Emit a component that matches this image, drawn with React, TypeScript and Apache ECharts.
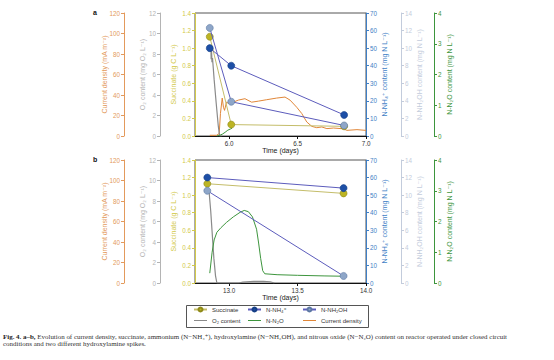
import React, { useEffect, useRef } from "react";
import * as echarts from "echarts";

// ---------- data ----------
// Panel a (first hydroxylamine spike)
const sampleDaysA = [5.858, 6.015, 6.84];
const succinateA = [1.13, 0.13, 0.11];
const ammoniumA = [50, 40, 12];
const hydroxylamineA = [12.3, 3.9, 1.2];

const o2DaysA = [5.866, 5.868, 5.871, 5.874, 5.878, 5.89, 5.905, 5.92, 5.93, 5.945];
const o2A = [8.7, 7.5, 8.3, 7.2, 7.6, 5.5, 3.2, 1.0, 0, 0];

const n2oDaysA = [5.91, 5.93, 5.95, 5.97, 5.99, 6.01, 6.02];
const n2oA = [0, 0.02, 0.06, 0.12, 0.19, 0.23, 0.25];

const cdDaysA = [5.858, 5.907, 5.927, 5.936, 5.949, 5.958, 5.966, 5.98, 6.0, 6.03, 6.066, 6.115, 6.164, 6.213, 6.274, 6.347, 6.408, 6.445, 6.494, 6.53, 6.567, 6.604, 6.64, 6.677, 6.714, 6.763, 6.836, 6.86, 6.934, 7.0];
const cdA = [0.7, 0.7, 2.3, 22, 37, 28, 25, 33, 31.5, 33, 35, 36.4, 33, 34, 35.4, 37, 38, 35, 28, 22, 13.7, 9.4, 8.1, 8.8, 7.2, 7.8, 7, 5.5, 6.2, 5.5];

// Panel b (second hydroxylamine spike)
const sampleDaysB = [12.84, 13.836];
const succinateB = [1.13, 1.02];
const ammoniumB = [60, 54];
const hydroxylamineB = [10.5, 0.8];

const o2DaysB = [12.853, 12.865, 12.877, 12.888, 12.9, 12.91, 13.07, 13.1, 13.18, 13.25, 13.3, 13.33];
const o2B = [8.9, 7.0, 4.6, 2.4, 0.7, 0, 0, 0.08, 0.15, 0.17, 0.12, 0];

const n2oDaysB = [12.858, 12.875, 12.89, 12.91, 12.94, 12.98, 13.03, 13.08, 13.11, 13.14, 13.17, 13.2, 13.215, 13.23, 13.245, 13.26, 13.35, 13.5, 13.7, 13.836];
const n2oB = [0.32, 1.0, 1.4, 1.65, 1.8, 1.97, 2.15, 2.3, 2.36, 2.32, 2.15, 1.75, 1.3, 0.8, 0.4, 0.3, 0.27, 0.25, 0.23, 0.22];

// axes
const timeTicksA = [6.0, 6.5, 7.0];
const timeTicksB = [13.0, 13.5, 14.0];

// ---------- styles ----------
const FONT = "'Liberation Sans', 'DejaVu Sans', Arial, sans-serif";
const SERIF = "'Liberation Serif', 'DejaVu Serif', serif";
const C_CD = "#e39a5c";
const C_CD_LINE = "#e08638";
const C_O2 = "#b4b4b4";
const C_O2_LINE = "#8a8a8a";
const C_SUC = "#d2c94a";
const C_NH4 = "#3f7fc6";
const C_NH2OH = "#c3ccdc";
const C_N2O = "#3d953d";
const LINE_ICON = "path://M0,0 L26,0 L26,2 L0,2 Z";

const zip = (xs: number[], ys: number[]) => xs.map((x, i) => [x, ys[i]]);

function yAxesFor(gridIndex: number) {
  const defs = [
    { name: "Current density (mA m⁻²)", position: "left", offset: 71, max: 120, interval: 20, color: C_CD, gap: 16 },
    { name: "O₂ content (mg O₂ L⁻¹)", position: "left", offset: 35, max: 12, interval: 2, color: C_O2, gap: 14 },
    { name: "Succinate (g C L⁻¹)", position: "left", offset: 0, max: 1.4, interval: 0.2, color: C_SUC, gap: 18, fixed: true },
    { name: "N-NH₄⁺ content (mg N L⁻¹)", position: "right", offset: 0, max: 70, interval: 10, color: C_NH4, gap: 15 },
    { name: "N-NH₂OH content (mg N L⁻¹)", position: "right", offset: 35, max: 14, interval: 2, color: C_NH2OH, gap: 15 },
    { name: "N-N₂O content (mg N L⁻¹)", position: "right", offset: 68, max: 4, interval: 1, color: C_N2O, gap: 12 },
  ];
  return defs.map((d) => ({
    type: "value",
    gridIndex,
    position: d.position,
    offset: d.offset,
    min: 0,
    max: d.max,
    interval: d.interval,
    name: d.name,
    nameLocation: "middle",
    nameRotate: 90,
    nameGap: d.gap,
    nameMoveOverlap: false,
    nameTextStyle: { color: d.color, fontSize: 7, fontFamily: FONT },
    axisLine: { show: true, lineStyle: { color: d.color, width: 1 } },
    axisTick: { show: true, length: 3, lineStyle: { color: d.color } },
    axisLabel: {
      color: d.color,
      fontSize: 6.3,
      fontFamily: FONT,
      margin: 4,
      formatter: d.fixed ? (v: number) => v.toFixed(1) : undefined,
    },
    splitLine: { show: false },
  }));
}

function xAxisFor(gridIndex: number, min: number, max: number, ticks: number[]) {
  return {
    type: "value",
    gridIndex,
    position: "bottom",
    min,
    max,
    name: "Time (days)",
    nameLocation: "middle",
    nameGap: 11,
    nameMoveOverlap: false,
    nameTextStyle: { color: "#222", fontSize: 7, fontFamily: FONT },
    axisLine: { show: true, onZero: false, lineStyle: { color: "#111", width: 1 } },
    axisTick: { show: true, length: 3, customValues: ticks, lineStyle: { color: "#111" } },
    axisLabel: {
      color: "#333",
      fontSize: 6.3,
      fontFamily: FONT,
      margin: 4,
      customValues: ticks,
      formatter: (v: number) => v.toFixed(1),
    },
    splitLine: { show: false },
  };
}

const LINE_BLUE = "#5c5cbc";

function seriesFor(panel: number) {
  const a = panel === 0;
  const yb = panel * 6;
  const xi = panel;
  const days = a ? sampleDaysA : sampleDaysB;
  const list: any[] = [];
  if (a) {
    list.push({
      name: "Current density",
      type: "line",
      xAxisIndex: xi,
      yAxisIndex: yb + 0,
      symbol: "none",
      lineStyle: { color: C_CD_LINE, width: 1 },
      itemStyle: { color: C_CD_LINE },
      data: zip(cdDaysA, cdA),
      z: 2,
    });
  }
  list.push({
    name: "O₂ content",
    type: "line",
    xAxisIndex: xi,
    yAxisIndex: yb + 1,
    symbol: "none",
    lineStyle: { color: C_O2_LINE, width: 1.2 },
    itemStyle: { color: C_O2_LINE },
    data: zip(a ? o2DaysA : o2DaysB, a ? o2A : o2B),
    z: 2,
  });
  list.push({
    name: "N-N₂O",
    type: "line",
    xAxisIndex: xi,
    yAxisIndex: yb + 5,
    symbol: "none",
    lineStyle: { color: C_N2O, width: 1 },
    itemStyle: { color: C_N2O },
    data: zip(a ? n2oDaysA : n2oDaysB, a ? n2oA : n2oB),
    z: 2,
  });
  list.push({
    name: "Succinate",
    type: "line",
    xAxisIndex: xi,
    yAxisIndex: yb + 2,
    symbol: "circle",
    symbolSize: 7,
    lineStyle: { color: "#c4bd6a", width: 1 },
    itemStyle: { color: "#bcb424", borderColor: "#8f8a1a", borderWidth: 0.6 },
    data: zip(days, a ? succinateA : succinateB),
    z: 3,
  });
  list.push({
    name: "N-NH₂OH",
    type: "line",
    xAxisIndex: xi,
    yAxisIndex: yb + 4,
    symbol: "circle",
    symbolSize: 7,
    lineStyle: { color: LINE_BLUE, width: 1 },
    itemStyle: { color: "#8ea6c8", borderColor: "#5d78a3", borderWidth: 0.6 },
    data: zip(days, a ? hydroxylamineA : hydroxylamineB),
    z: 4,
  });
  list.push({
    name: "N-NH₄⁺",
    type: "line",
    xAxisIndex: xi,
    yAxisIndex: yb + 3,
    symbol: "circle",
    symbolSize: 7,
    lineStyle: { color: LINE_BLUE, width: 1 },
    itemStyle: { color: "#1d4fa6", borderColor: "#163f86", borderWidth: 0.6 },
    data: zip(days, a ? ammoniumA : ammoniumB),
    z: 5,
  });
  return list;
}

function legendCol(left: number, names: any[]) {
  return {
    left,
    top: 306.5,
    orient: "vertical",
    padding: 0,
    itemWidth: 13,
    itemHeight: 5,
    itemGap: 5,
    itemTextGap: 4,
    textStyle: { fontSize: 6, color: "#333", fontFamily: FONT },
    data: names,
    selectedMode: false,
  };
}

export default function App() {
  const ref = useRef<HTMLDivElement>(null);
  useEffect(() => {
    if (!ref.current) return;
    const chart = echarts.init(ref.current, undefined, { renderer: "svg" });
    const gridBase = { left: 195, width: 171, height: 123, show: true, borderColor: "#555", borderWidth: 1, backgroundColor: "transparent" };
    chart.setOption({
      animation: false,
      backgroundColor: "#fff",
      grid: [
        { ...gridBase, top: 13 },
        { ...gridBase, top: 160 },
      ],
      xAxis: [xAxisFor(0, 5.75, 7.0, timeTicksA), xAxisFor(1, 12.75, 14.0, timeTicksB)],
      yAxis: [...yAxesFor(0), ...yAxesFor(1)],
      legend: [
        legendCol(193, ["Succinate", { name: "O₂ content", icon: LINE_ICON }]),
        legendCol(247, ["N-NH₄⁺", { name: "N-N₂O", icon: LINE_ICON }]),
        legendCol(302, ["N-NH₂OH", { name: "Current density", icon: LINE_ICON }]),
      ],
      series: [...seriesFor(0), ...seriesFor(1)],
      graphic: [
        { type: "text", x: 93, y: 9, style: { text: "a", fontSize: 7, fontWeight: "bold", fill: "#111", fontFamily: FONT } },
        { type: "text", x: 93, y: 156, style: { text: "b", fontSize: 7, fontWeight: "bold", fill: "#111", fontFamily: FONT } },
        { type: "rect", shape: { x: 186.5, y: 305.5, width: 182, height: 22 }, style: { fill: "none", stroke: "#555", lineWidth: 1 } },
        {
          type: "text",
          x: 3,
          y: 337,
          style: {
            text: "{b|Fig. 4. a–b,} Evolution of current density, succinate, ammonium (N−NH₄⁺), hydroxylamine (N−NH₂OH), and nitrous oxide (N−N₂O) content on reactor operated under closed circuit",
            fontSize: 6.95,
            fontFamily: SERIF,
            fill: "#333",
            verticalAlign: "middle",
            rich: { b: { fontWeight: "bold", fontSize: 6.95, fontFamily: SERIF, fill: "#222" } },
          },
        },
        {
          type: "text",
          x: 3,
          y: 344,
          style: {
            text: "conditions and two different hydroxylamine spikes.",
            fontSize: 6.95,
            fontFamily: SERIF,
            fill: "#333",
            verticalAlign: "middle",
          },
        },
      ],
    });
    return () => chart.dispose();
  }, []);
  return <div ref={ref} style={{ position: "absolute", left: 0, top: 0, width: 554, height: 360 }} />;
}
